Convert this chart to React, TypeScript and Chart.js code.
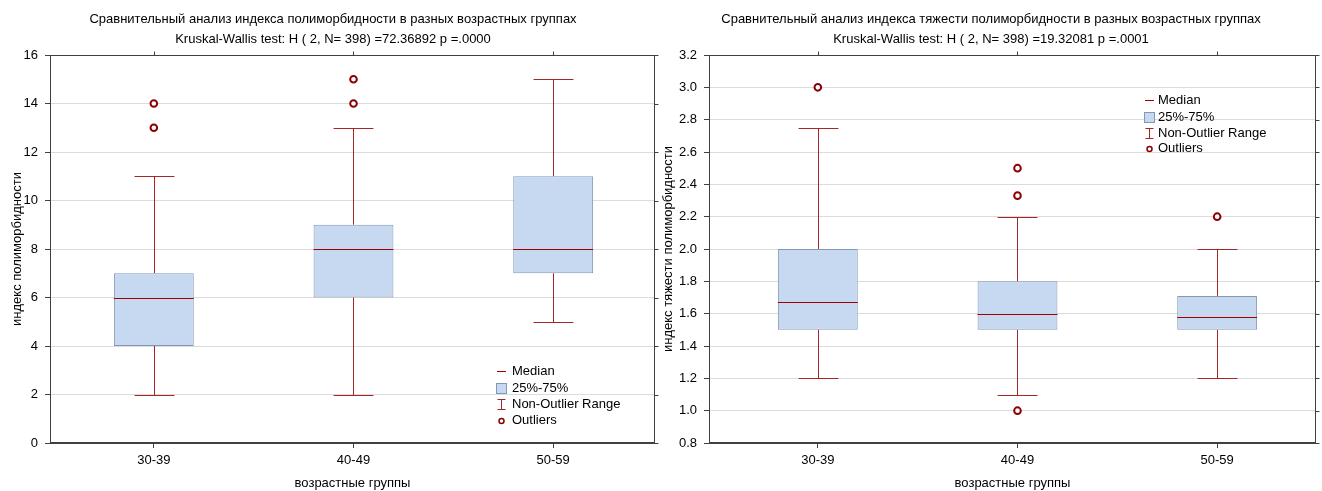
import React, { useEffect, useRef } from "react";
import { Chart, registerables } from "chart.js";

Chart.register(...registerables);

const FONT = "'Liberation Sans', Arial, sans-serif";
Chart.defaults.font.family = FONT;
Chart.defaults.font.size = 13;
Chart.defaults.color = "#000";

// ---------- shared ----------
const groups = ["30-39", "40-49", "50-59"];
const groupPositions = [1, 2, 3];
const legendLabels = ["Median", "25%-75%", "Non-Outlier Range", "Outliers"];
const xAxisTitle = "возрастные группы";

// ---------- left chart: polymorbidity index ----------
const polyTitle = [
  "Сравнительный анализ индекса полиморбидности в разных возрастных группах",
  "Kruskal-Wallis test: H ( 2, N= 398) =72.36892 p =.0000",
];
const polyYTitle = "индекс полиморбидности";
const polyTicks = [0, 2, 4, 6, 8, 10, 12, 14, 16];
const polyQ1 = [4, 6, 7];
const polyQ3 = [7, 9, 11];
const polyMedian = [6, 8, 8];
const polyLow = [2, 2, 5];
const polyHigh = [11, 13, 15];
const polyOutlierX = [1, 1, 2, 2];
const polyOutlierY = [13, 14, 14, 15];

// ---------- right chart: polymorbidity severity index ----------
const sevTitle = [
  "Сравнительный анализ индекса тяжести полиморбидности в разных возрастных группах",
  "Kruskal-Wallis test: H ( 2, N= 398) =19.32081 p =.0001",
];
const sevYTitle = "индекс тяжести полиморбидности";
const sevTicks = [0.8, 1.0, 1.2, 1.4, 1.6, 1.8, 2.0, 2.2, 2.4, 2.6, 2.8, 3.0, 3.2];
const sevQ1 = [1.5, 1.5, 1.5];
const sevQ3 = [2.0, 1.8, 1.71];
const sevMedian = [1.67, 1.6, 1.58];
const sevLow = [1.2, 1.1, 1.2];
const sevHigh = [2.75, 2.2, 2.0];
const sevOutlierX = [1, 2, 2, 2, 3];
const sevOutlierY = [3.0, 2.5, 2.33, 1.0, 2.2];

// ---------- styles ----------
const BOX_FILL = "#c6d9f0";
const BOX_BORDER = "#8298b6";
const WHISKER = "#a52626";
const MEDIAN = "#a00000";
const OUTLIER = "#8b0000";
const FRAME = "#404040";
const GRID = "#dcdcdc";

type Spec = {
  title: string[];
  titleX: number;
  yTitle: string;
  yTitlePad: number;
  ticks: number[];
  decimals: number;
  q1: number[];
  q3: number[];
  median: number[];
  low: number[];
  high: number[];
  outX: number[];
  outY: number[];
  xMin: number;
  xMax: number;
  yAxisWidth: number;
  padRight: number;
  legendSymX: number;
  legendTextX: number;
  legendRows: number[];
};

const boxPlugin = {
  id: "boxExtras",
  beforeDatasetsDraw(chart: any, _a: any, opts: any) {
    const s: Spec = opts.spec;
    const { ctx, scales } = chart;
    const x = scales.x, y = scales.y;
    const meta = chart.getDatasetMeta(0);
    ctx.save();
    ctx.strokeStyle = WHISKER;
    ctx.lineWidth = 1;
    groupPositions.forEach((p, i) => {
      const el = meta.data[i];
      const half = el ? el.width / 4 : 20;
      const cx = Math.round(x.getPixelForValue(p)) + 0.5;
      const yq1 = y.getPixelForValue(s.q1[i]);
      const yq3 = y.getPixelForValue(s.q3[i]);
      const yl = Math.round(y.getPixelForValue(s.low[i])) + 0.5;
      const yh = Math.round(y.getPixelForValue(s.high[i])) + 0.5;
      ctx.beginPath();
      ctx.moveTo(cx, yq3);
      ctx.lineTo(cx, yh);
      ctx.moveTo(cx, yq1);
      ctx.lineTo(cx, yl);
      ctx.moveTo(cx - half, yh);
      ctx.lineTo(cx + half, yh);
      ctx.moveTo(cx - half, yl);
      ctx.lineTo(cx + half, yl);
      ctx.stroke();
    });
    ctx.restore();
  },
  afterDatasetsDraw(chart: any, _a: any, opts: any) {
    const s: Spec = opts.spec;
    const { ctx, scales } = chart;
    const y = scales.y;
    const meta = chart.getDatasetMeta(0);
    ctx.save();
    ctx.strokeStyle = MEDIAN;
    ctx.lineWidth = 1;
    groupPositions.forEach((_p, i) => {
      const el = meta.data[i];
      if (!el) return;
      const ym = Math.round(y.getPixelForValue(s.median[i])) + 0.5;
      ctx.beginPath();
      ctx.moveTo(el.x - el.width / 2, ym);
      ctx.lineTo(el.x + el.width / 2, ym);
      ctx.stroke();
    });
    ctx.restore();
  },
  afterDraw(chart: any, _a: any, opts: any) {
    const s: Spec = opts.spec;
    const { ctx, chartArea: a, scales } = chart;
    ctx.save();
    // frame
    ctx.strokeStyle = FRAME;
    ctx.lineWidth = 1;
    const l = Math.round(a.left) + 0.5, r = Math.round(a.right) - 0.5;
    const t = Math.round(a.top) + 0.5, b = Math.round(a.bottom) - 0.5;
    ctx.strokeRect(l, t, r - l, b - t);
    // mirror ticks
    ctx.beginPath();
    groupPositions.forEach((p) => {
      const px = Math.round(scales.x.getPixelForValue(p)) + 0.5;
      ctx.moveTo(px, t);
      ctx.lineTo(px, t - 4);
    });
    s.ticks.forEach((v) => {
      const py = Math.round(scales.y.getPixelForValue(v)) + 0.5;
      ctx.moveTo(r, py);
      ctx.lineTo(r + 4, py);
    });
    ctx.stroke();
    // titles
    ctx.fillStyle = "#000";
    ctx.font = `13px ${FONT}`;
    ctx.textAlign = "center";
    ctx.textBaseline = "middle";
    ctx.fillText(s.title[0], s.titleX, 19);
    ctx.fillText(s.title[1], s.titleX, 39);
    // legend
    const sx = s.legendSymX;
    const rows = s.legendRows;
    ctx.textAlign = "left";
    legendLabels.forEach((lab, i) => ctx.fillText(lab, s.legendTextX, rows[i]));
    // median symbol
    ctx.strokeStyle = MEDIAN;
    ctx.beginPath();
    ctx.moveTo(sx - 4, Math.round(rows[0]) + 0.5);
    ctx.lineTo(sx + 5, Math.round(rows[0]) + 0.5);
    ctx.stroke();
    // box symbol
    ctx.fillStyle = BOX_FILL;
    ctx.strokeStyle = BOX_BORDER;
    ctx.fillRect(sx - 5, rows[1] - 5, 10, 11);
    ctx.strokeRect(sx - 4.5, rows[1] - 4.5, 10, 10);
    // whisker symbol
    ctx.strokeStyle = WHISKER;
    ctx.beginPath();
    const wx = sx + 0.5;
    ctx.moveTo(wx, rows[2] - 5);
    ctx.lineTo(wx, rows[2] + 5);
    ctx.moveTo(wx - 4, rows[2] - 5 + 0.5);
    ctx.lineTo(wx + 4, rows[2] - 5 + 0.5);
    ctx.moveTo(wx - 4, rows[2] + 5 + 0.5);
    ctx.lineTo(wx + 4, rows[2] + 5 + 0.5);
    ctx.stroke();
    // outlier symbol
    ctx.strokeStyle = OUTLIER;
    ctx.fillStyle = "#fff";
    ctx.lineWidth = 1.5;
    ctx.beginPath();
    ctx.arc(sx + 0.5, rows[3] + 1, 2.5, 0, Math.PI * 2);
    ctx.fill();
    ctx.stroke();
    ctx.restore();
  },
};

function BoxChart({ spec }: { spec: Spec }) {
  const ref = useRef<HTMLCanvasElement | null>(null);
  useEffect(() => {
    if (!ref.current) return;
    const s = spec;
    const chart = new Chart(ref.current, {
      type: "bar",
      data: {
        datasets: [
          {
            type: "bar",
            data: groupPositions.map((p, i) => ({ x: p, y: [s.q1[i], s.q3[i]] })) as any,
            backgroundColor: BOX_FILL,
            borderColor: BOX_BORDER,
            borderWidth: 1,
            borderSkipped: false,
            barPercentage: 0.4,
            categoryPercentage: 1,
          } as any,
          {
            type: "scatter",
            data: s.outX.map((xv, i) => ({ x: xv, y: s.outY[i] })),
            showLine: false,
            pointRadius: 3.3,
            pointBorderWidth: 2,
            pointBorderColor: OUTLIER,
            pointBackgroundColor: "#fff",
          } as any,
        ],
      },
      options: {
        responsive: false,
        animation: false,
        events: [],
        layout: { padding: { top: 55, right: s.padRight, left: 0, bottom: 0 } },
        plugins: {
          legend: { display: false },
          tooltip: { enabled: false },
          title: { display: false },
          boxExtras: { spec: s },
        } as any,
        scales: {
          x: {
            type: "linear",
            offset: false,
            min: s.xMin,
            max: s.xMax,
            afterBuildTicks: (sc: any) => {
              sc.ticks = groupPositions.map((v) => ({ value: v }));
            },
            afterFit: (sc: any) => {
              sc.height = 48;
            },
            ticks: {
              autoSkip: false,
              maxRotation: 0,
              padding: 5,
              callback: (v: any) => groups[groupPositions.indexOf(Number(v))] ?? "",
            },
            grid: {
              offset: false,
              drawOnChartArea: false,
              drawTicks: true,
              tickLength: 5,
              tickColor: FRAME,
            },
            border: { display: true, color: FRAME },
            title: {
              display: true,
              text: xAxisTitle,
              padding: { top: 0, bottom: 0 },
            },
          },
          y: {
            type: "linear",
            min: s.ticks[0],
            max: s.ticks[s.ticks.length - 1],
            afterBuildTicks: (sc: any) => {
              sc.ticks = s.ticks.map((v) => ({ value: v }));
            },
            afterFit: (sc: any) => {
              sc.width = s.yAxisWidth;
            },
            ticks: {
              autoSkip: false,
              padding: 7,
              callback: (v: any) => Number(v).toFixed(s.decimals),
            },
            grid: {
              color: GRID,
              drawTicks: true,
              tickLength: 5,
              tickColor: FRAME,
            },
            border: { display: true, color: FRAME },
            title: {
              display: true,
              text: s.yTitle,
              padding: { top: s.yTitlePad, bottom: 0 },
            },
          },
        },
      } as any,
      plugins: [boxPlugin as any],
    });
    return () => chart.destroy();
  }, [spec]);
  return <canvas ref={ref} width={661} height={491} style={{ display: "block" }} />;
}

const leftSpec: Spec = {
  title: polyTitle,
  titleX: 333,
  yTitle: polyYTitle,
  yTitlePad: 10,
  ticks: polyTicks,
  decimals: 0,
  q1: polyQ1,
  q3: polyQ3,
  median: polyMedian,
  low: polyLow,
  high: polyHigh,
  outX: polyOutlierX,
  outY: polyOutlierY,
  xMin: 0.48,
  xMax: 3.51,
  yAxisWidth: 50,
  padRight: 5,
  legendSymX: 501,
  legendTextX: 512,
  legendRows: [371, 388, 404, 420],
};

const rightSpec: Spec = {
  title: sevTitle,
  titleX: 330,
  yTitle: sevYTitle,
  yTitlePad: 0,
  ticks: sevTicks,
  decimals: 1,
  q1: sevQ1,
  q3: sevQ3,
  median: sevMedian,
  low: sevLow,
  high: sevHigh,
  outX: sevOutlierX,
  outY: sevOutlierY,
  xMin: 0.455,
  xMax: 3.495,
  yAxisWidth: 48,
  padRight: 6,
  legendSymX: 488,
  legendTextX: 497,
  legendRows: [100, 117, 133, 148],
};

export default function App() {
  useEffect(() => {
    document.body.style.margin = "0";
  }, []);
  return (
    <div style={{ display: "flex", width: 1322, height: 491, background: "#fff" }}>
      <BoxChart spec={leftSpec} />
      <BoxChart spec={rightSpec} />
    </div>
  );
}
